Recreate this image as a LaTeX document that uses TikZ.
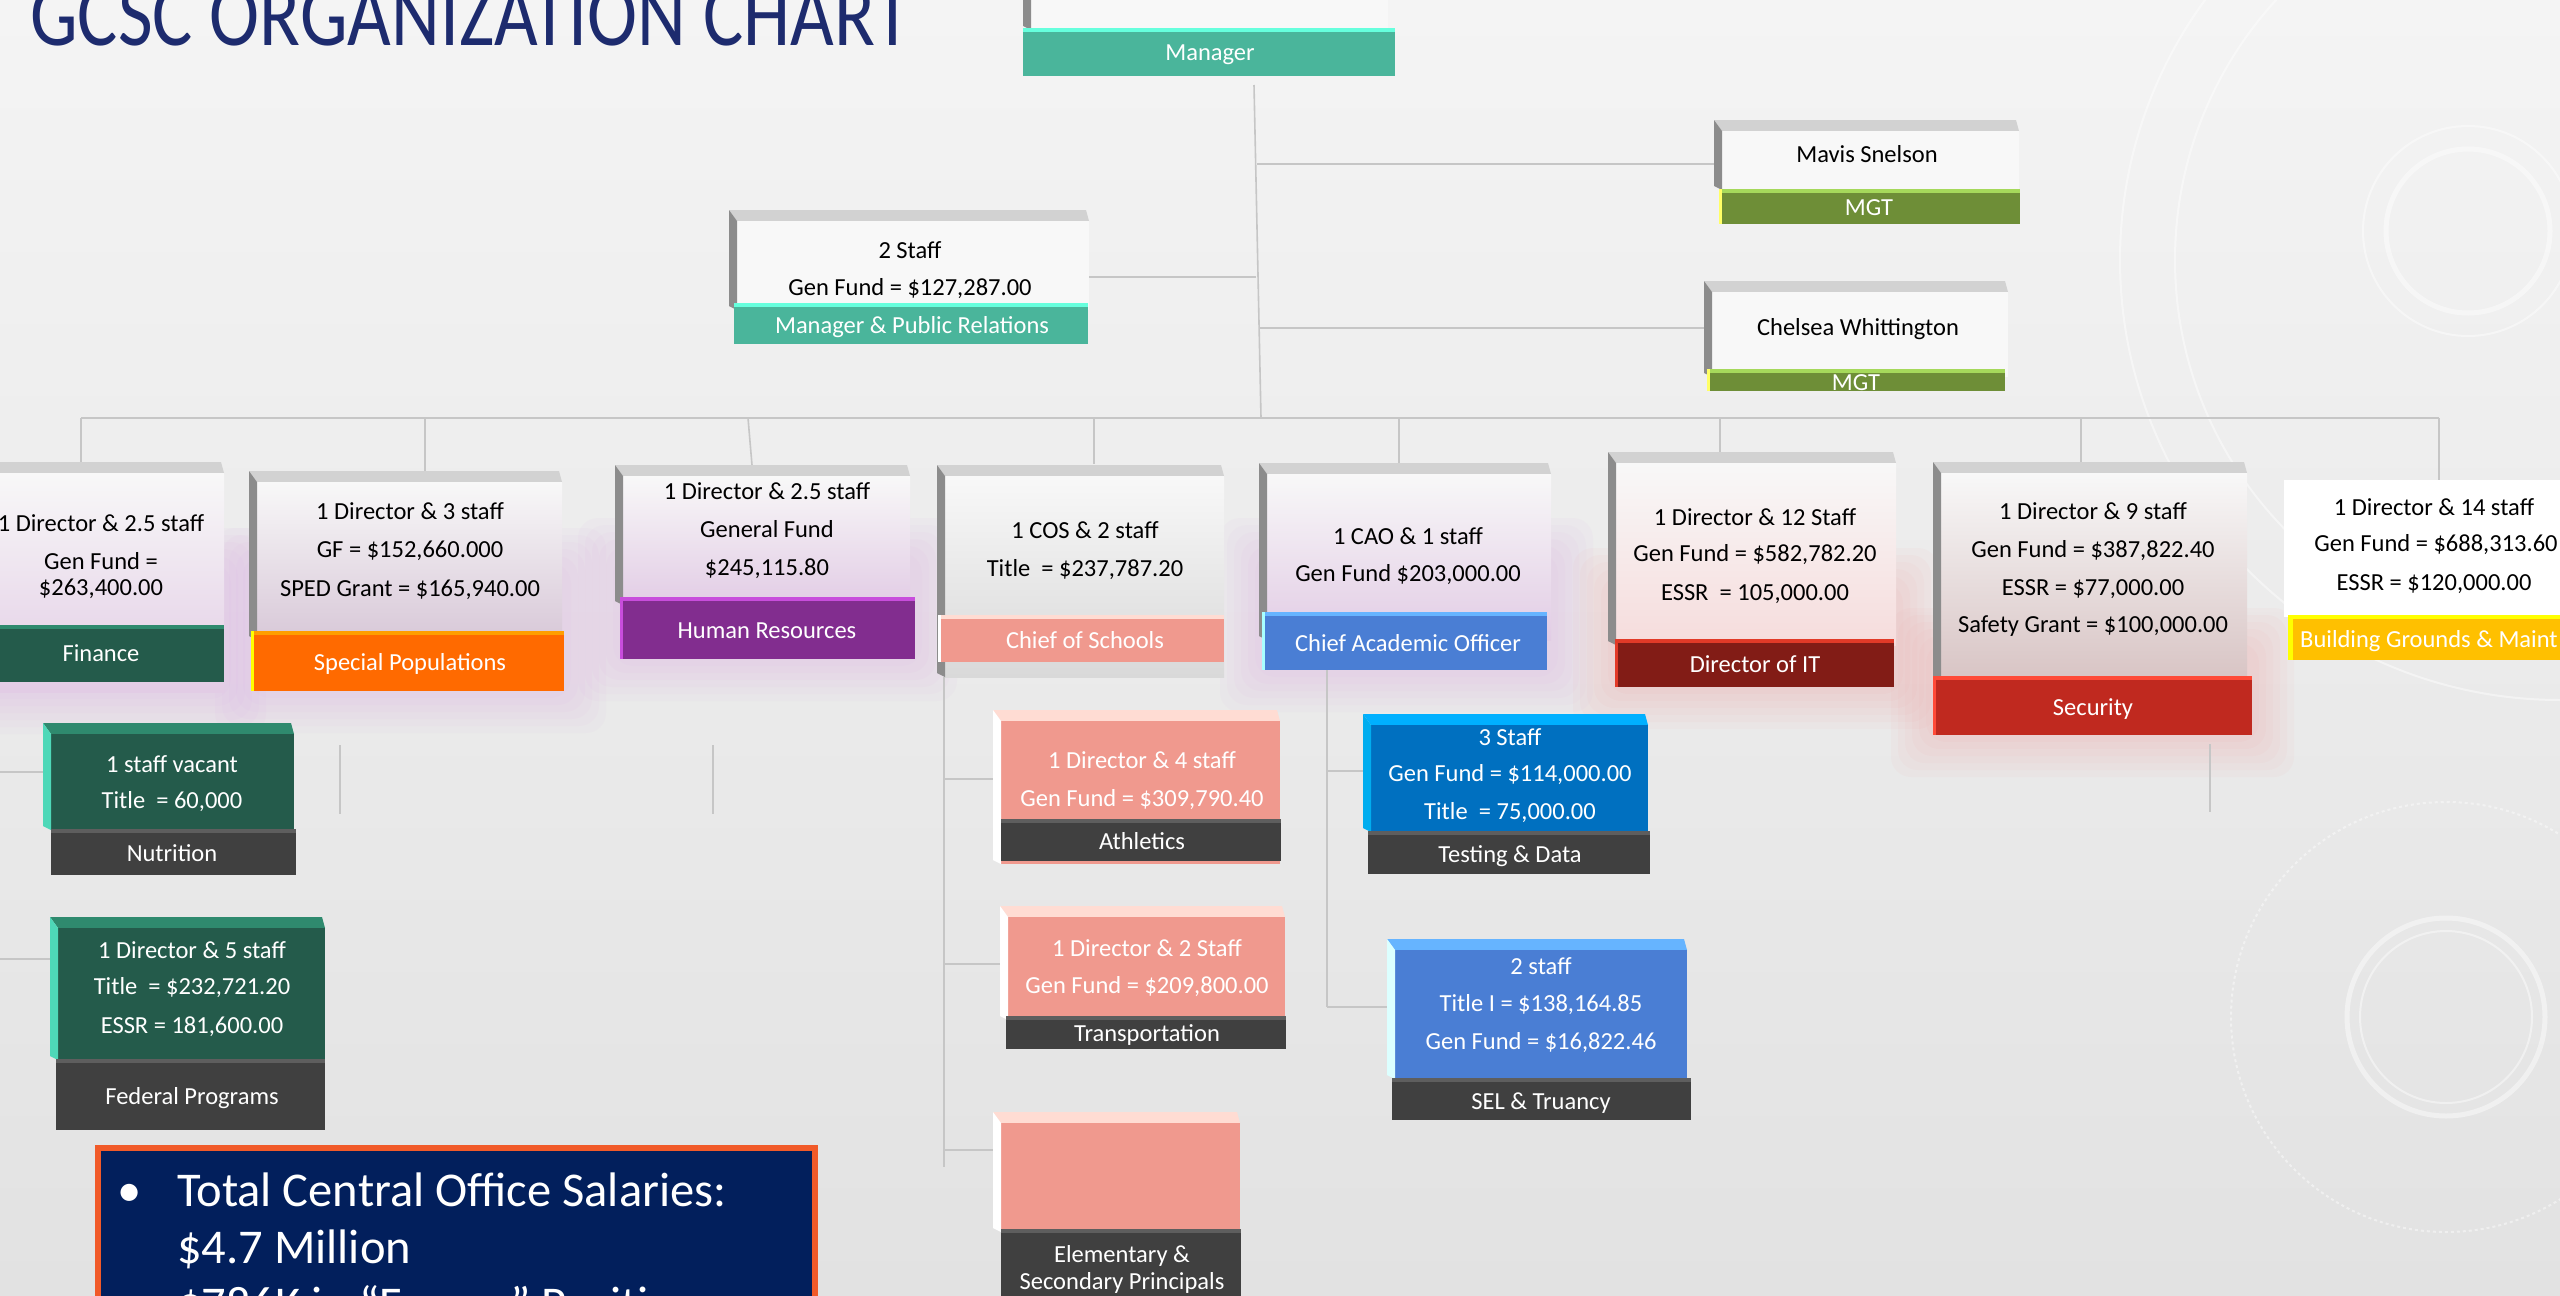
\documentclass[tikz,border=0pt]{standalone}
\usepackage{fontspec}
\setmainfont{Carlito}
\usetikzlibrary{fit}
\pgfdeclarelayer{back}
\pgfdeclarelayer{lines}
\pgfsetlayers{back,lines,main}
\definecolor{bgtop}{HTML}{F4F4F4}
\definecolor{bgbot}{HTML}{E2E2E2}
\definecolor{connc}{HTML}{C6C6C6}
\definecolor{bev}{HTML}{D2D2D2}
\definecolor{bevdark}{HTML}{8C8C8C}
\definecolor{facew}{HTML}{F8F8F8}
\definecolor{teal}{HTML}{4AB59B}
\definecolor{tealhi}{HTML}{66FFDD}
\definecolor{olive}{HTML}{6E8E37}
\definecolor{olivehi}{HTML}{A6D95B}
\definecolor{dkgreen}{HTML}{245B4B}
\definecolor{dkgreenhi}{HTML}{2F8A6E}
\definecolor{tealleft}{HTML}{4ED8B8}
\definecolor{orng}{HTML}{FF6A00}
\definecolor{orngHi}{HTML}{FF9E00}
\definecolor{purp}{HTML}{822D8F}
\definecolor{purphi}{HTML}{C84DDC}
\definecolor{salmon}{HTML}{F0998E}
\definecolor{salmonhi}{HTML}{FFDCD3}
\definecolor{cblue}{HTML}{4A7ED4}
\definecolor{cbluehi}{HTML}{66B4FF}
\definecolor{maroon}{HTML}{821C16}
\definecolor{maroonhi}{HTML}{E23A28}
\definecolor{sred}{HTML}{C0291F}
\definecolor{sredhi}{HTML}{FF4A38}
\definecolor{gold}{HTML}{FFC000}
\definecolor{goldhi}{HTML}{FFFF00}
\definecolor{charc}{HTML}{404040}
\definecolor{charchi}{HTML}{5E5E5E}
\definecolor{tblue}{HTML}{0070C0}
\definecolor{tbluehi}{HTML}{00B0FF}
\definecolor{navy}{HTML}{021F5C}
\definecolor{titlec}{HTML}{1D2B6E}
\definecolor{borderor}{HTML}{F15A29}
\definecolor{lilac}{HTML}{E2CCE5}
\definecolor{lilacg}{HTML}{D8C8D8}
\definecolor{greyb}{HTML}{D9D9D9}
\definecolor{pinkb}{HTML}{F6DCDC}
\definecolor{rosb}{HTML}{D8C4C4}
\definecolor{glowp}{HTML}{D8A6E6}
\definecolor{glowr}{HTML}{F2A0A0}
\definecolor{paleedge}{HTML}{A8FFFF}
\tikzset{
  lbl/.style={font=\fontsize{24.5}{29}\selectfont, anchor=base, yshift=-8pt, inner sep=0pt},
  cn/.style={draw=connc, line width=1.6pt},
  deco/.style={draw=white, opacity=0.45},
  fw/.style={fill=facew},
  fwp/.style={top color=facew, middle color=facew!60!lilac, bottom color=lilac},
  fwq/.style={top color=facew, middle color=facew!60!lilacg, bottom color=lilacg},
  fwg/.style={top color=facew, middle color=facew!70!greyb, bottom color=greyb},
  fwr/.style={top color=facew, middle color=facew!70!pinkb, bottom color=pinkb},
  fws/.style={top color=facew, middle color=facew!65!rosb, bottom color=rosb},
  sumtxt/.style={font=\fontsize{48.5}{57}\selectfont, text=white, anchor=base west, inner sep=0pt}
}
% #1 name #2 x1 #3 y1 #4 x2 #5 y2 #6 top colour #7 left colour #8 face style
\newcommand\cube[8]{%
  \fill[#6] ({#2-8},{#3-11}) -- ({#4-3},{#3-11}) -- (#4,#3) -- (#2,#3) -- cycle;
  \node[inner sep=0pt, outer sep=0pt, fit={(#2,#3) (#4,#5)}, #8] (#1) {};
  \fill[#7] ({#2-8},{#3-11}) -- (#2,#3) -- (#2,#5) -- ({#2-8},{#5-4}) -- cycle;
}
% #1 name #2 x1 #3 y1 #4 x2 #5 y2 #6 fill #7 highlight
\newcommand\band[7]{%
  \node[inner sep=0pt, outer sep=0pt, fit={(#2,#3) (#4,#5)}, fill=#6] (#1) {};
  \fill[#7] (#2,#3) rectangle (#4,{#3+4});
}
\newcommand\lline[4]{\fill[#4] (#1,#2) rectangle ({#1+3},#3);}
\newcommand\lb[4][black]{\node[lbl,text=#1] (#2) at (#3) {#4};}
\newcommand\glow[5]{\foreach \k in {1,...,6}{\fill[#5, opacity=0.06, rounded corners=20pt] ({#1-\k*7},{#2-\k*7}) rectangle ({#3+\k*7},{#4+\k*7});}}
\begin{document}
\begin{tikzpicture}[x=1pt,y=-1pt]
\useasboundingbox (0,0) rectangle (2560,1296);
\begin{pgfonlayer}{back}
  \shade[top color=bgtop, bottom color=bgbot] (0,0) rectangle (2560,1296);
  \draw[deco, line width=5pt] (2468,231) circle (82);
  \draw[deco, line width=2pt] (2468,231) circle (105);
  \draw[deco, line width=5pt] (2446,1017) circle (99);
  \draw[deco, line width=2pt] (2446,1017) circle (86);
  \draw[deco, line width=2pt, dashed] (2446,1017) circle (215);
  \draw[deco, line width=2pt] (2560,260) circle (440);
  \draw[deco, line width=2pt] (2560,260) circle (385);
  \glow{-20}{570}{224}{692}{glowp}
  \glow{257}{570}{564}{691}{glowp}
  \glow{620}{560}{915}{659}{glowp}
  \glow{1262}{560}{1551}{670}{glowp}
  \glow{1615}{590}{1896}{687}{glowr}
  \glow{1933}{650}{2252}{735}{glowr}
\end{pgfonlayer}

% title
\node[anchor=base west, inner sep=0pt, text=titlec] (title) at (30,45) {\scalebox{0.82}[1]{\fontsize{92}{92}\selectfont GCSC ORGANIZATION CHART}};

% top level
\cube{mgr}{1031}{-30}{1388}{30}{bev}{bevdark}{fw}
\band{mgrL}{1023}{28}{1395}{76}{teal}{tealhi}
\lb[white]{mgrT}{1210,52}{Manager}

\cube{mav}{1722}{131}{2019}{190}{bev}{bevdark}{fw}
\band{mavL}{1719}{189}{2020}{224}{olive}{olivehi}
\lline{1719}{189}{224}{goldhi!60!white}
\lb{mavT}{1867,154}{Mavis Snelson}
\lb[white]{mavM}{1869,207}{MGT}

\cube{che}{1712}{292}{2008}{377}{bev}{bevdark}{fw}
\band{cheL}{1707}{369}{2005}{391}{olive}{olivehi}
\lline{1707}{369}{391}{goldhi!60!white}
\lb{cheT}{1858,327}{Chelsea Whittington}
\lb[white]{cheM}{1856,382}{MGT}

\cube{pr}{737}{221}{1089}{310}{bev}{bevdark}{fw}
\band{prL}{734}{303}{1088}{344}{teal}{tealhi}
\lb{prT1}{910,250}{2 Staff}
\lb{prT2}{910,287}{Gen Fund = \$127,287.00}
\lb[white]{prM}{912,325}{Manager \& Public Relations}

% main row
\cube{fin}{-20}{473}{224}{692}{bev}{bevdark}{fwp}
\band{finL}{-20}{625}{224}{682}{dkgreen}{dkgreenhi}
\lb{finT1}{101,523}{1 Director \& 2.5 staff}
\lb{finT2}{101,561}{Gen Fund =}
\lb{finT3}{101,587}{\$263,400.00}
\lb[white]{finM}{101,653}{Finance}

\cube{sp}{257}{482}{562}{640}{bev}{bevdark}{fwq}
\band{spL}{251}{631}{564}{691}{orng}{orngHi}
\lline{251}{631}{691}{goldhi}
\lb{spT1}{410,511}{1 Director \& 3 staff}
\lb{spT2}{410,549}{GF = \$152,660.000}
\lb{spT3}{410,588}{SPED Grant = \$165,940.00}
\lb[white]{spM}{410,662}{Special Populations}

\cube{hr}{623}{476}{910}{605}{bev}{bevdark}{fwp}
\band{hrL}{620}{597}{915}{659}{purp}{purphi}
\lline{620}{597}{659}{purphi}
\lb{hrT1}{767,491}{1 Director \& 2.5 staff}
\lb{hrT2}{767,529}{General Fund}
\lb{hrT3}{767,567}{\$245,115.80}
\lb[white]{hrM}{767,630}{Human Resources}

\cube{cos}{945}{476}{1224}{677}{bev}{bevdark}{fwg}
\band{cosL}{938}{615}{1224}{662}{salmon}{salmonhi}
\lline{938}{615}{662}{white}
\lb{cosT1}{1085,530}{1 COS \& 2 staff}
\lb{cosT2}{1085,568}{Title\ \ = \$237,787.20}
\lb[white]{cosM}{1085,640}{Chief of Schools}

\cube{cao}{1267}{474}{1551}{640}{bev}{bevdark}{fwp}
\band{caoL}{1262}{612}{1547}{670}{cblue}{cbluehi}
\lline{1262}{612}{670}{paleedge}
\lb{caoT1}{1408,536}{1 CAO \& 1 staff}
\lb{caoT2}{1408,573}{Gen Fund \$203,000.00}
\lb[white]{caoM}{1408,643}{Chief Academic Officer}

\cube{it}{1616}{463}{1896}{645}{bev}{bevdark}{fwr}
\band{itL}{1615}{639}{1894}{687}{maroon}{maroonhi}
\lline{1615}{639}{687}{maroonhi}
\lb{itT1}{1755,517}{1 Director \& 12 Staff}
\lb{itT2}{1755,553}{Gen Fund = \$582,782.20}
\lb{itT3}{1755,592}{ESSR\ \ = 105,000.00}
\lb[white]{itM}{1755,664}{Director of IT}

\cube{sec}{1941}{473}{2247}{680}{bev}{bevdark}{fws}
\band{secL}{1933}{676}{2252}{735}{sred}{sredhi}
\lline{1933}{676}{735}{sredhi}
\lb{secT1}{2093,511}{1 Director \& 9 staff}
\lb{secT2}{2093,549}{Gen Fund = \$387,822.40}
\lb{secT3}{2093,587}{ESSR = \$77,000.00}
\lb{secT4}{2093,624}{Safety Grant = \$100,000.00}
\lb[white]{secM}{2093,707}{Security}

\node[inner sep=0pt, outer sep=0pt, fit={(2284,480) (2570,617)}, fill=white] (bg) {};
\band{bgL}{2288}{615}{2570}{660}{gold}{goldhi}
\fill[goldhi] (2288,615) rectangle (2293,660);
\lb{bgT1}{2434,507}{1 Director \& 14 staff}
\lb{bgT2}{2436,543}{Gen Fund = \$688,313.60}
\lb{bgT3}{2434,582}{ESSR = \$120,000.00}
\node[lbl, anchor=base west, text=white] (bgM) at (2300,639) {Building Grounds \& Maint};

% second level
\cube{nut}{51}{734}{294}{830}{dkgreenhi}{tealleft}{fill=dkgreen}
\band{nutL}{51}{829}{296}{875}{charc}{charchi}
\lb[white]{nutT1}{172,764}{1 staff vacant}
\lb[white]{nutT2}{172,800}{Title\ \ = 60,000}
\lb[white]{nutM}{172,853}{Nutrition}

\cube{fed}{58}{928}{325}{1060}{dkgreenhi}{tealleft}{fill=dkgreen}
\band{fedL}{56}{1059}{325}{1130}{charc}{charchi}
\lb[white]{fedT1}{192,950}{1 Director \& 5 staff}
\lb[white]{fedT2}{192,986}{Title\ \ = \$232,721.20}
\lb[white]{fedT3}{192,1025}{ESSR = 181,600.00}
\lb[white]{fedM}{192,1096}{Federal Programs}

\cube{ath}{1001}{721}{1280}{864}{salmonhi}{white}{fill=salmon}
\band{athL}{1001}{819}{1281}{861}{charc}{charchi}
\lb[white]{athT1}{1142,760}{1 Director \& 4 staff}
\lb[white]{athT2}{1142,798}{Gen Fund = \$309,790.40}
\lb[white]{athM}{1142,841}{Athletics}

\cube{tra}{1008}{917}{1285}{1020}{salmonhi}{white}{fill=salmon}
\band{traL}{1006}{1016}{1286}{1049}{charc}{charchi}
\lb[white]{traT1}{1147,948}{1 Director \& 2 Staff}
\lb[white]{traT2}{1147,985}{Gen Fund = \$209,800.00}
\lb[white]{traM}{1147,1033}{Transportation}

\cube{pri}{1001}{1123}{1240}{1232}{salmonhi}{white}{fill=salmon}
\band{priL}{1001}{1229}{1241}{1310}{charc}{charchi}
\lb[white]{priM1}{1122,1254}{Elementary \&}
\lb[white]{priM2}{1122,1281}{Secondary Principals}

\cube{tst}{1371}{725}{1648}{832}{tbluehi}{cyan}{fill=tblue}
\band{tstL}{1368}{831}{1650}{874}{charc}{charchi}
\lb[white]{tstT1}{1510,737}{3 Staff}
\lb[white]{tstT2}{1510,773}{Gen Fund = \$114,000.00}
\lb[white]{tstT3}{1510,811}{Title\ \ = 75,000.00}
\lb[white]{tstM}{1510,854}{Testing \& Data}

\cube{sel}{1395}{950}{1687}{1079}{cbluehi}{paleedge!40!white}{fill=cblue}
\band{selL}{1392}{1078}{1691}{1120}{charc}{charchi}
\lb[white]{selT1}{1541,966}{2 staff}
\lb[white]{selT2}{1541,1003}{Title I = \$138,164.85}
\lb[white]{selT3}{1541,1041}{Gen Fund = \$16,822.46}
\lb[white]{selM}{1541,1101}{SEL \& Truancy}

% summary box
\node[inner sep=0pt, outer sep=0pt, fit={(98,1148) (815,1340)}, fill=navy, draw=borderor, line width=6pt] (sumbox) {};
\node[sumtxt] (sumB) at (117,1206) {•};
\node[sumtxt] (sum1) at (177,1206) {Total Central Office Salaries:};
\node[sumtxt] (sum2) at (177,1263) {\$4.7 Million};
\node[sumtxt] (sum3) at (177,1320) {\$786K in “Frozen” Positions};

% connectors
\coordinate (mgrJ) at (1254,85);
\coordinate (busJ) at (1261,418);
\coordinate (prJ) at (1256,277);
\coordinate (mavJ) at (1257,164);
\coordinate (cheJ) at (1259,328);
\coordinate (dFin) at (81,462);
\coordinate (dSp) at (425,471);
\coordinate (dHr) at (752,465);
\coordinate (dCos) at (1094,464);
\coordinate (dCao) at (1399,463);
\coordinate (dIt) at (1720,453);
\coordinate (dSec) at (2081,462);
\coordinate (dBg) at (2439,480);
\coordinate (cosJ) at (944,677);
\coordinate (cosE) at (944,1167);
\coordinate (athJ) at (944,779);
\coordinate (traJ) at (944,964);
\coordinate (priJ) at (944,1150);
\coordinate (caoJ) at (1327,670);
\coordinate (caoE) at (1327,1007);
\coordinate (tstJ) at (1327,771);
\coordinate (nutJ) at (0,772);
\coordinate (fedJ) at (0,959);
\coordinate (s1a) at (340,745);
\coordinate (s1b) at (340,814);
\coordinate (s2a) at (713,745);
\coordinate (s2b) at (713,814);
\coordinate (s3a) at (2210,744);
\coordinate (s3b) at (2210,812);
\begin{pgfonlayer}{lines}
  \draw[cn] (mgrJ) -- (busJ);
  \draw[cn] (prJ) -- (prJ -| pr.east);
  \draw[cn] (mavJ) -- (mavJ -| mav.west);
  \draw[cn] (cheJ) -- (cheJ -| che.west);
  \draw[cn] (dFin |- busJ) -- (dBg |- busJ);
  \draw[cn] (dFin |- busJ) -- (dFin);
  \draw[cn] (dSp |- busJ) -- (dSp);
  \draw[cn] (748,418) -- (dHr);
  \draw[cn] (dCos |- busJ) -- (dCos);
  \draw[cn] (dCao |- busJ) -- (dCao);
  \draw[cn] (dIt |- busJ) -- (dIt);
  \draw[cn] (dSec |- busJ) -- (dSec);
  \draw[cn] (dBg |- busJ) -- (dBg);
  \draw[cn] (cosJ) -- (cosE);
  \draw[cn] (athJ) -- (athJ -| ath.west);
  \draw[cn] (traJ) -- (traJ -| tra.west);
  \draw[cn] (priJ) -- (priJ -| pri.west);
  \draw[cn] (caoJ) -- (caoE);
  \draw[cn] (tstJ) -- (tstJ -| tst.west);
  \draw[cn] (caoE) -- (caoE -| sel.west);
  \draw[cn] (nutJ) -- (nutJ -| nut.west);
  \draw[cn] (fedJ) -- (fedJ -| fed.west);
  \draw[cn] (s1a) -- (s1b);
  \draw[cn] (s2a) -- (s2b);
  \draw[cn] (s3a) -- (s3b);
\end{pgfonlayer}
\end{tikzpicture}
\end{document}
